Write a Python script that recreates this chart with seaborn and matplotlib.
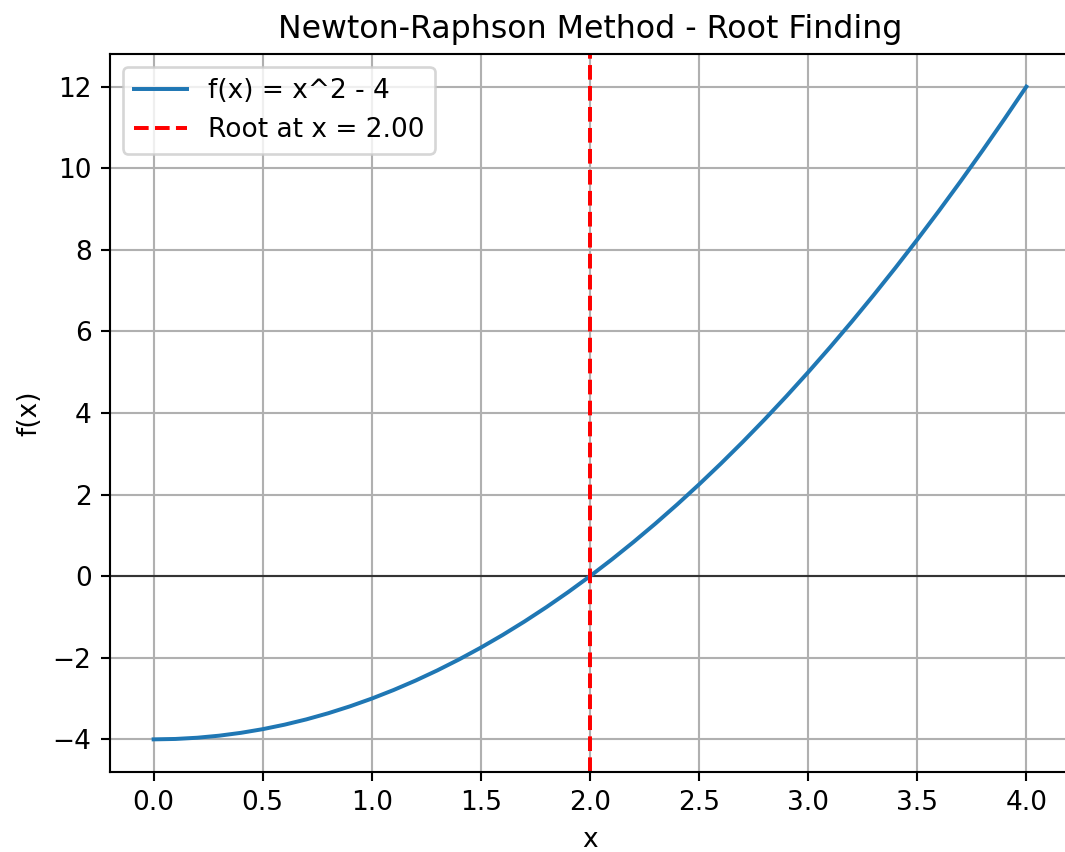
import matplotlib
matplotlib.use("Agg")
import matplotlib.pyplot as plt
import seaborn as sns
import pandas as pd

# values
x_vals = [0.0, 0.1, 0.2, 0.3, 0.4, 0.5, 0.6, 0.7, 0.8, 0.9, 1.0,
          1.1, 1.2, 1.3, 1.4, 1.5, 1.6, 1.7, 1.8, 1.9, 2.0,
          2.1, 2.2, 2.3, 2.4, 2.5, 2.6, 2.7, 2.8, 2.9, 3.0,
          3.1, 3.2, 3.3, 3.4, 3.5, 3.6, 3.7, 3.8, 3.9, 4.0]
f_vals = [-4.0, -3.99, -3.96, -3.91, -3.84, -3.75, -3.64, -3.51, -3.36, -3.19, -3.0,
          -2.79, -2.56, -2.31, -2.04, -1.75, -1.44, -1.11, -0.76, -0.39, 0.0,
          0.41, 0.84, 1.29, 1.76, 2.25, 2.76, 3.29, 3.84, 4.41, 5.0,
          5.61, 6.24, 6.89, 7.56, 8.25, 8.96, 9.69, 10.44, 11.21, 12.0]
root = 2.0

df = pd.DataFrame({"x": x_vals, "f": f_vals})

fig = plt.figure(figsize=(1065 / 190, 852 / 190), dpi=190)
ax = fig.add_axes([110 / 1065, 80 / 852, 960 / 1065, 718 / 852])

ax.axhline(0, color="black", linewidth=0.8, alpha=0.7)
sns.lineplot(data=df, x="x", y="f", ax=ax, color="#1f77b4", linewidth=1.5,
             label="f(x) = x^2 - 4", sort=False)
ax.axvline(root, color="r", linestyle="--", linewidth=1.5, label=f"Root at x = {root:.2f}")

ax.set_title("Newton-Raphson Method - Root Finding")
ax.set_xlabel("x")
ax.set_ylabel("f(x)")
ax.set_xlim(-0.2, 4.2)
ax.set_ylim(-4.8, 12.8)
ax.grid(True)
ax.legend(loc="upper left")

fig.savefig("out.png", dpi=190)
